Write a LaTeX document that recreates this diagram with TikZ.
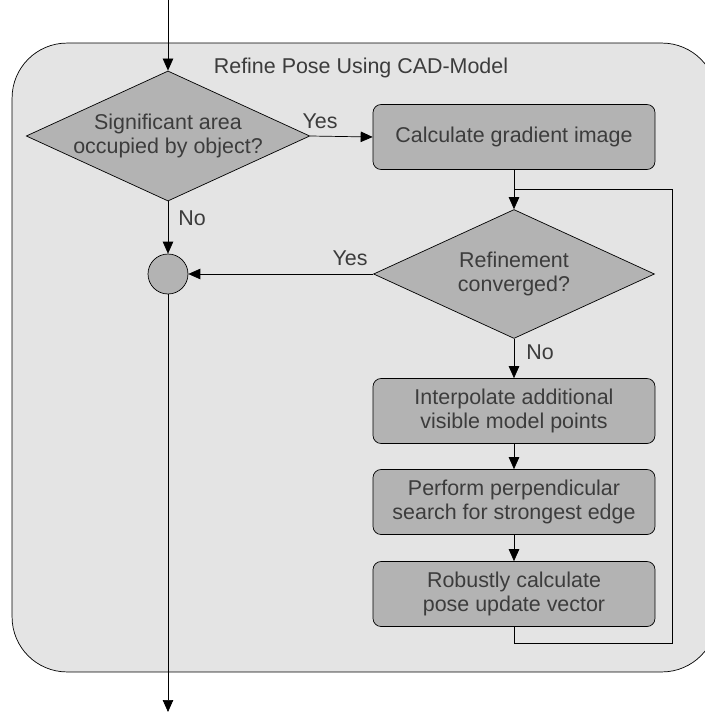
\documentclass[tikz,border=0pt]{standalone}
\usepackage{fontspec}
\setmainfont{Liberation Sans}
\usetikzlibrary{shapes.geometric,arrows.meta}
\definecolor{panelgray}{HTML}{E4E4E4}
\definecolor{boxgray}{HTML}{B3B3B3}
\definecolor{textgray}{HTML}{3C3C3C}
\begin{document}
\begin{tikzpicture}[
  x=0.02cm, y=-0.02cm,
  every node/.style={font=\fontsize{12.2}{13.2}\selectfont, align=center, text=textgray},
  decision/.style={diamond, aspect=2.18, draw=black, fill=boxgray, inner sep=0pt, minimum width=5.62cm, minimum height=2.58cm},
  task/.style={rectangle, rounded corners=0.16cm, draw=black, fill=boxgray, minimum width=5.64cm, minimum height=1.3cm},
  merge/.style={circle, draw=black, fill=boxgray, minimum size=0.8cm, inner sep=0pt},
  arr/.style={-{Triangle[length=0.24cm,width=0.21cm]}, black},
  lbl/.style={inner sep=1pt}
]
\clip (0,0) rectangle (705,713);

% Rahmen
\node[draw=black, fill=panelgray, rounded corners=1.1cm, minimum width=14.1cm, minimum height=12.58cm, inner sep=0pt] (panel) at (364.5,357.5) {};
\node (title) at (361,68) {Refine Pose Using CAD-Model};

% Entscheidungen
\node[decision] (d1) at (168,136) {Significant area\\occupied by object?};
\node[decision] (d2) at (514,274) {Refinement\\converged?};

% Schritte
\node[task] (b1) at (514,137) {Calculate gradient image};
\node[task] (b2) at (514,411) {Interpolate additional\\visible model points};
\node[task] (b3) at (514,502) {Perform perpendicular\\search for strongest edge};
\node[task] (b4) at (514,594) {Robustly calculate\\pose update vector};

% Zusammenfuehrung
\node[merge] (join) at (168,274) {};

% Ein- und Ausgang
\coordinate (start) at (168,0);
\coordinate (stop) at (168,712);
\coordinate (fbtop) at (672,189);
\coordinate (fbbot) at (672,643);

% Verbindungen
\draw[arr] (start) -- (d1.north);
\draw[arr] (d1.east) -- (b1.west);
\draw[arr] (d1.south) -- (join.north);
\draw[arr] (b1.south) -- (d2.north);
\draw[arr] (d2.west) -- (join.east);
\draw[arr] (d2.south) -- (b2.north);
\draw[arr] (b2.south) -- (b3.north);
\draw[arr] (b3.south) -- (b4.north);
\draw[arr] (join.south) -- (stop);
\draw (b4.south) |- (fbbot) -- (fbtop) -- (b1.south |- fbtop);

% Beschriftungen
\node[lbl] (yes1) at (320,121) {Yes};
\node[lbl] (no1) at (192,218) {No};
\node[lbl] (yes2) at (350,258) {Yes};
\node[lbl] (no2) at (540,352) {No};
\end{tikzpicture}
\end{document}
